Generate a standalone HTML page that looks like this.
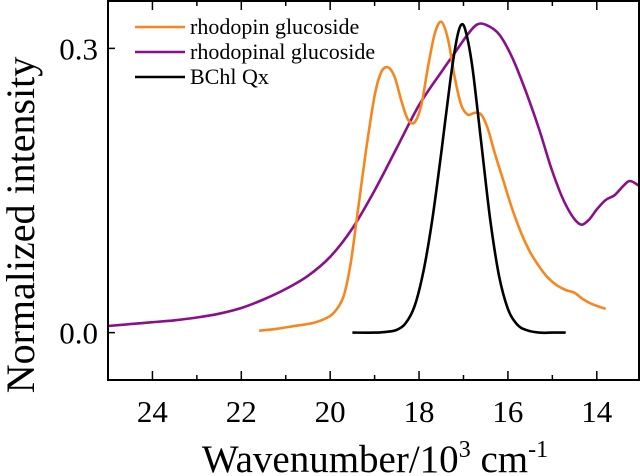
<!DOCTYPE html>
<html><head><meta charset="utf-8"><style>
html,body{margin:0;padding:0;background:#fff;width:640px;height:476px;overflow:hidden}
svg{display:block}
text{font-family:"Liberation Serif",serif;fill:#000}
</style></head><body>
<svg id="chart" width="640" height="476"></svg>
<script>
const xTicks=[24,22,20,18,16,14];
const yTicks=[0.0,0.3];
const yTickLabels=["0.0","0.3"];
const rhodopinX=[21.6,21.2,20.8,20.4,20.1,19.9,19.7,19.55,19.4,19.2,19.0,18.85,18.7,18.55,18.4,18.25,18.1,17.95,17.8,17.65,17.5,17.35,17.2,17.05,16.9,16.75,16.6,16.45,16.3,16.1,15.9,15.7,15.5,15.3,15.1,14.9,14.7,14.5,14.3,14.1,13.8];
const rhodopinY=[0.002,0.004,0.007,0.010,0.015,0.022,0.038,0.07,0.12,0.19,0.25,0.275,0.28,0.27,0.245,0.225,0.222,0.24,0.28,0.315,0.328,0.31,0.27,0.24,0.23,0.232,0.23,0.215,0.19,0.16,0.13,0.105,0.085,0.07,0.058,0.05,0.045,0.042,0.035,0.03,0.025];
const purpleX=[25,24.5,24,23.5,23,22.5,22,21.5,21,20.5,20,19.5,19,18.5,18,17.5,17.2,16.9,16.7,16.5,16.2,15.9,15.6,15.3,15,14.7,14.4,14.2,14,13.8,13.6,13.4,13.25,13.05];
const purpleY=[0.007,0.009,0.011,0.013,0.016,0.020,0.026,0.035,0.046,0.06,0.08,0.11,0.15,0.195,0.24,0.275,0.295,0.315,0.325,0.325,0.315,0.29,0.255,0.215,0.17,0.135,0.115,0.118,0.13,0.14,0.145,0.155,0.16,0.155];
const bchlX=[19.5,19.0,18.7,18.5,18.3,18.1,17.9,17.7,17.5,17.3,17.15,17.05,16.95,16.8,16.6,16.4,16.2,16.0,15.8,15.6,15.3,15.0,14.7];
const bchlY=[0,0,0.001,0.003,0.01,0.028,0.065,0.12,0.19,0.265,0.31,0.325,0.318,0.28,0.2,0.12,0.06,0.025,0.009,0.003,0,0,0];

const L=108,R=639,T=1,B=380;
const xMin=25,xMax=13.05,yMin=-0.05,yMax=0.35;
const sx=v=>L+(v-xMin)/(xMax-xMin)*(R-L);
const sy=v=>B-(v-yMin)/(yMax-yMin)*(B-T);
const svg=document.getElementById('chart');
const NS='http://www.w3.org/2000/svg';
function mk(tag,attrs,parent){const e=document.createElementNS(NS,tag);for(const k in attrs)e.setAttribute(k,attrs[k]);(parent||svg).appendChild(e);return e;}

function smoothPath(xs,ys){
  const P=xs.map((x,i)=>[sx(x),sy(ys[i])]);
  let d='M'+P[0][0].toFixed(1)+','+P[0][1].toFixed(1);
  for(let i=0;i<P.length-1;i++){
    const p0=P[i-1]||P[i],p1=P[i],p2=P[i+1],p3=P[i+2]||P[i+1];
    const c1=[p1[0]+(p2[0]-p0[0])/6,p1[1]+(p2[1]-p0[1])/6];
    const c2=[p2[0]-(p3[0]-p1[0])/6,p2[1]-(p3[1]-p1[1])/6];
    d+=' C'+c1.map(v=>v.toFixed(1)).join(',')+' '+c2.map(v=>v.toFixed(1)).join(',')+' '+p2.map(v=>v.toFixed(1)).join(',');
  }
  return d;
}
function series(xs,ys,color,name){
  const p=mk('path',{d:smoothPath(xs,ys),fill:'none',stroke:color,'stroke-width':2.6,'stroke-linejoin':'round'});
  
  
}
series(purpleX,purpleY,'#8b0f8b','rhodopinal-glucoside-line');
series(rhodopinX,rhodopinY,'#f7861e','rhodopin-glucoside-line');
series(bchlX,bchlY,'#000','bchl-qx-line');

const frame=mk('rect',{x:L,y:T,width:R-L,height:B-T,fill:'none',stroke:'#000','stroke-width':2});



for(let v=14;v<=24;v+=1){
  const major=xTicks.includes(v);const len=major?9:5;
  mk('line',{x1:sx(v),x2:sx(v),y1:B,y2:B-len,stroke:'#000','stroke-width':1.5});
  mk('line',{x1:sx(v),x2:sx(v),y1:T,y2:T+len,stroke:'#000','stroke-width':1.5});
}
xTicks.forEach(v=>{
  const t=mk('text',{x:sx(v),y:422,'text-anchor':'middle','font-size':31});
  t.textContent=v;
  
  
});
yTicks.forEach((v,i)=>{
  mk('line',{x1:L,x2:L+7,y1:sy(v),y2:sy(v),stroke:'#000','stroke-width':1.5});
  const t=mk('text',{x:98,y:sy(v)+11,'text-anchor':'end','font-size':31});
  t.textContent=yTickLabels[i];
  
  
});
const xt=mk('text',{x:375,y:472,'text-anchor':'middle','font-size':39});
xt.innerHTML='Wavenumber/10<tspan font-size="24" dy="-15">3</tspan><tspan dy="15"> cm</tspan><tspan font-size="24" dy="-15">-1</tspan>';


const yt=mk('text',{x:0,y:0,'text-anchor':'middle','font-size':40,transform:'translate(34,225) rotate(-90)'});
yt.textContent='Normalized intensity';



const legend=[['rhodopin glucoside','#f7861e',27],['rhodopinal glucoside','#8b0f8b',52],['BChl Qx','#000',77]];
legend.forEach(([lab,c,y])=>{
  const g=mk('g',{});
  
  
  mk('line',{x1:135,x2:185,y1:y,y2:y,stroke:c,'stroke-width':2.6},g);
  const t=mk('text',{x:190,y:y+7,'font-size':22},g);
  t.textContent=lab;
});
</script>
</body></html>
